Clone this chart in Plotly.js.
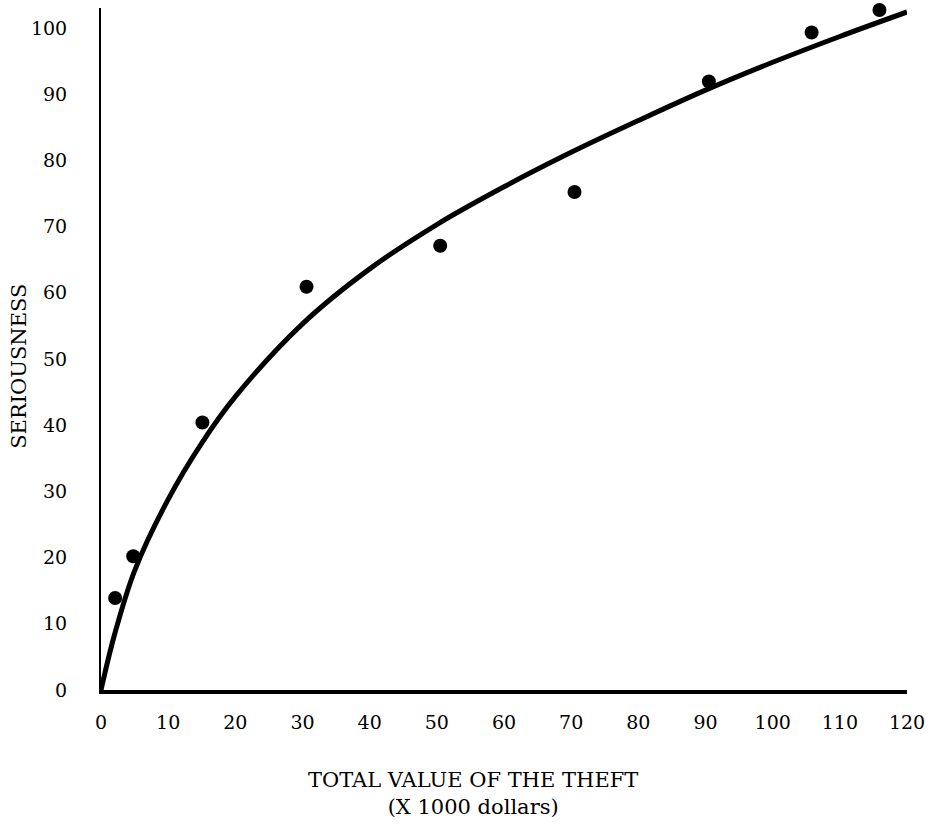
<!DOCTYPE html>
<html>
<head>
<meta charset="utf-8">
<script src="https://cdn.plot.ly/plotly-3.0.1.min.js"></script>
<style>html,body{margin:0;padding:0;background:#fff;}#chart{width:933px;height:831px;}</style>
</head>
<body>
<div id="chart"></div>
<script>
// Observed data points
var theftValue = [2.1, 4.8, 15.1, 30.6, 50.5, 70.5, 90.5, 105.8, 115.9];
var seriousness = [13.9, 20.2, 40.4, 60.9, 67.1, 75.2, 91.9, 99.3, 102.7];

// Fitted curve
var curveX = [0, 2, 5, 10, 15, 20, 30, 40, 50, 60, 70, 80, 90, 100, 110, 120];
var curveY = [0, 8.3, 18.0, 28.8, 37.3, 44.3, 55.3, 63.6, 70.3, 76.0, 81.2, 86.0, 90.6, 94.8, 98.7, 102.4];

var xTicks = [0, 10, 20, 30, 40, 50, 60, 70, 80, 90, 100, 110, 120];
var yTicks = [0, 10, 20, 30, 40, 50, 60, 70, 80, 90, 100];

var xTitle = 'TOTAL VALUE OF THE THEFT<br>(X 1000 dollars)';
var yTitle = 'SERIOUSNESS';

var FONT = 'DejaVu Serif, Liberation Serif, serif';

var traces = [
  {
    x: curveX, y: curveY, type: 'scatter', mode: 'lines',
    line: {color: '#000', width: 5, shape: 'spline', smoothing: 1.0},
    hoverinfo: 'skip', cliponaxis: false
  },
  {
    x: theftValue, y: seriousness, type: 'scatter', mode: 'markers',
    marker: {color: '#000', size: 14},
    cliponaxis: false
  }
];

var layout = {
  width: 933, height: 831,
  margin: {l: 101, r: 26, t: 8, b: 141},
  paper_bgcolor: '#fff', plot_bgcolor: '#fff',
  showlegend: false,
  font: {family: FONT, color: '#000', size: 19},
  xaxis: {
    range: [0, 120], tickvals: xTicks, ticktext: xTicks.map(String),
    showgrid: false, zeroline: false, showline: true, linecolor: '#000', linewidth: 4,
    ticks: '', ticklabelstandoff: 12,
    tickfont: {family: FONT, size: 19, color: '#000'}
  },
  yaxis: {
    range: [0, 103], tickvals: yTicks, ticktext: yTicks.map(String),
    showgrid: false, zeroline: false, showline: true, linecolor: '#000', linewidth: 2,
    ticks: '', ticklabelstandoff: 28,
    tickfont: {family: FONT, size: 19, color: '#000'}
  },
  annotations: [
    {
      text: xTitle, xref: 'paper', yref: 'paper',
      x: 0.4615, y: -0.112, xanchor: 'center', yanchor: 'top',
      showarrow: false, align: 'center',
      font: {family: FONT, size: 21, color: '#000'}
    },
    {
      text: yTitle, xref: 'paper', yref: 'paper',
      x: -0.1017, y: 0.474, xanchor: 'center', yanchor: 'middle',
      textangle: -90, showarrow: false,
      font: {family: FONT, size: 21, color: '#000'}
    }
  ]
};

Plotly.newPlot('chart', traces, layout, {staticPlot: true, displayModeBar: false});
</script>
</body>
</html>
